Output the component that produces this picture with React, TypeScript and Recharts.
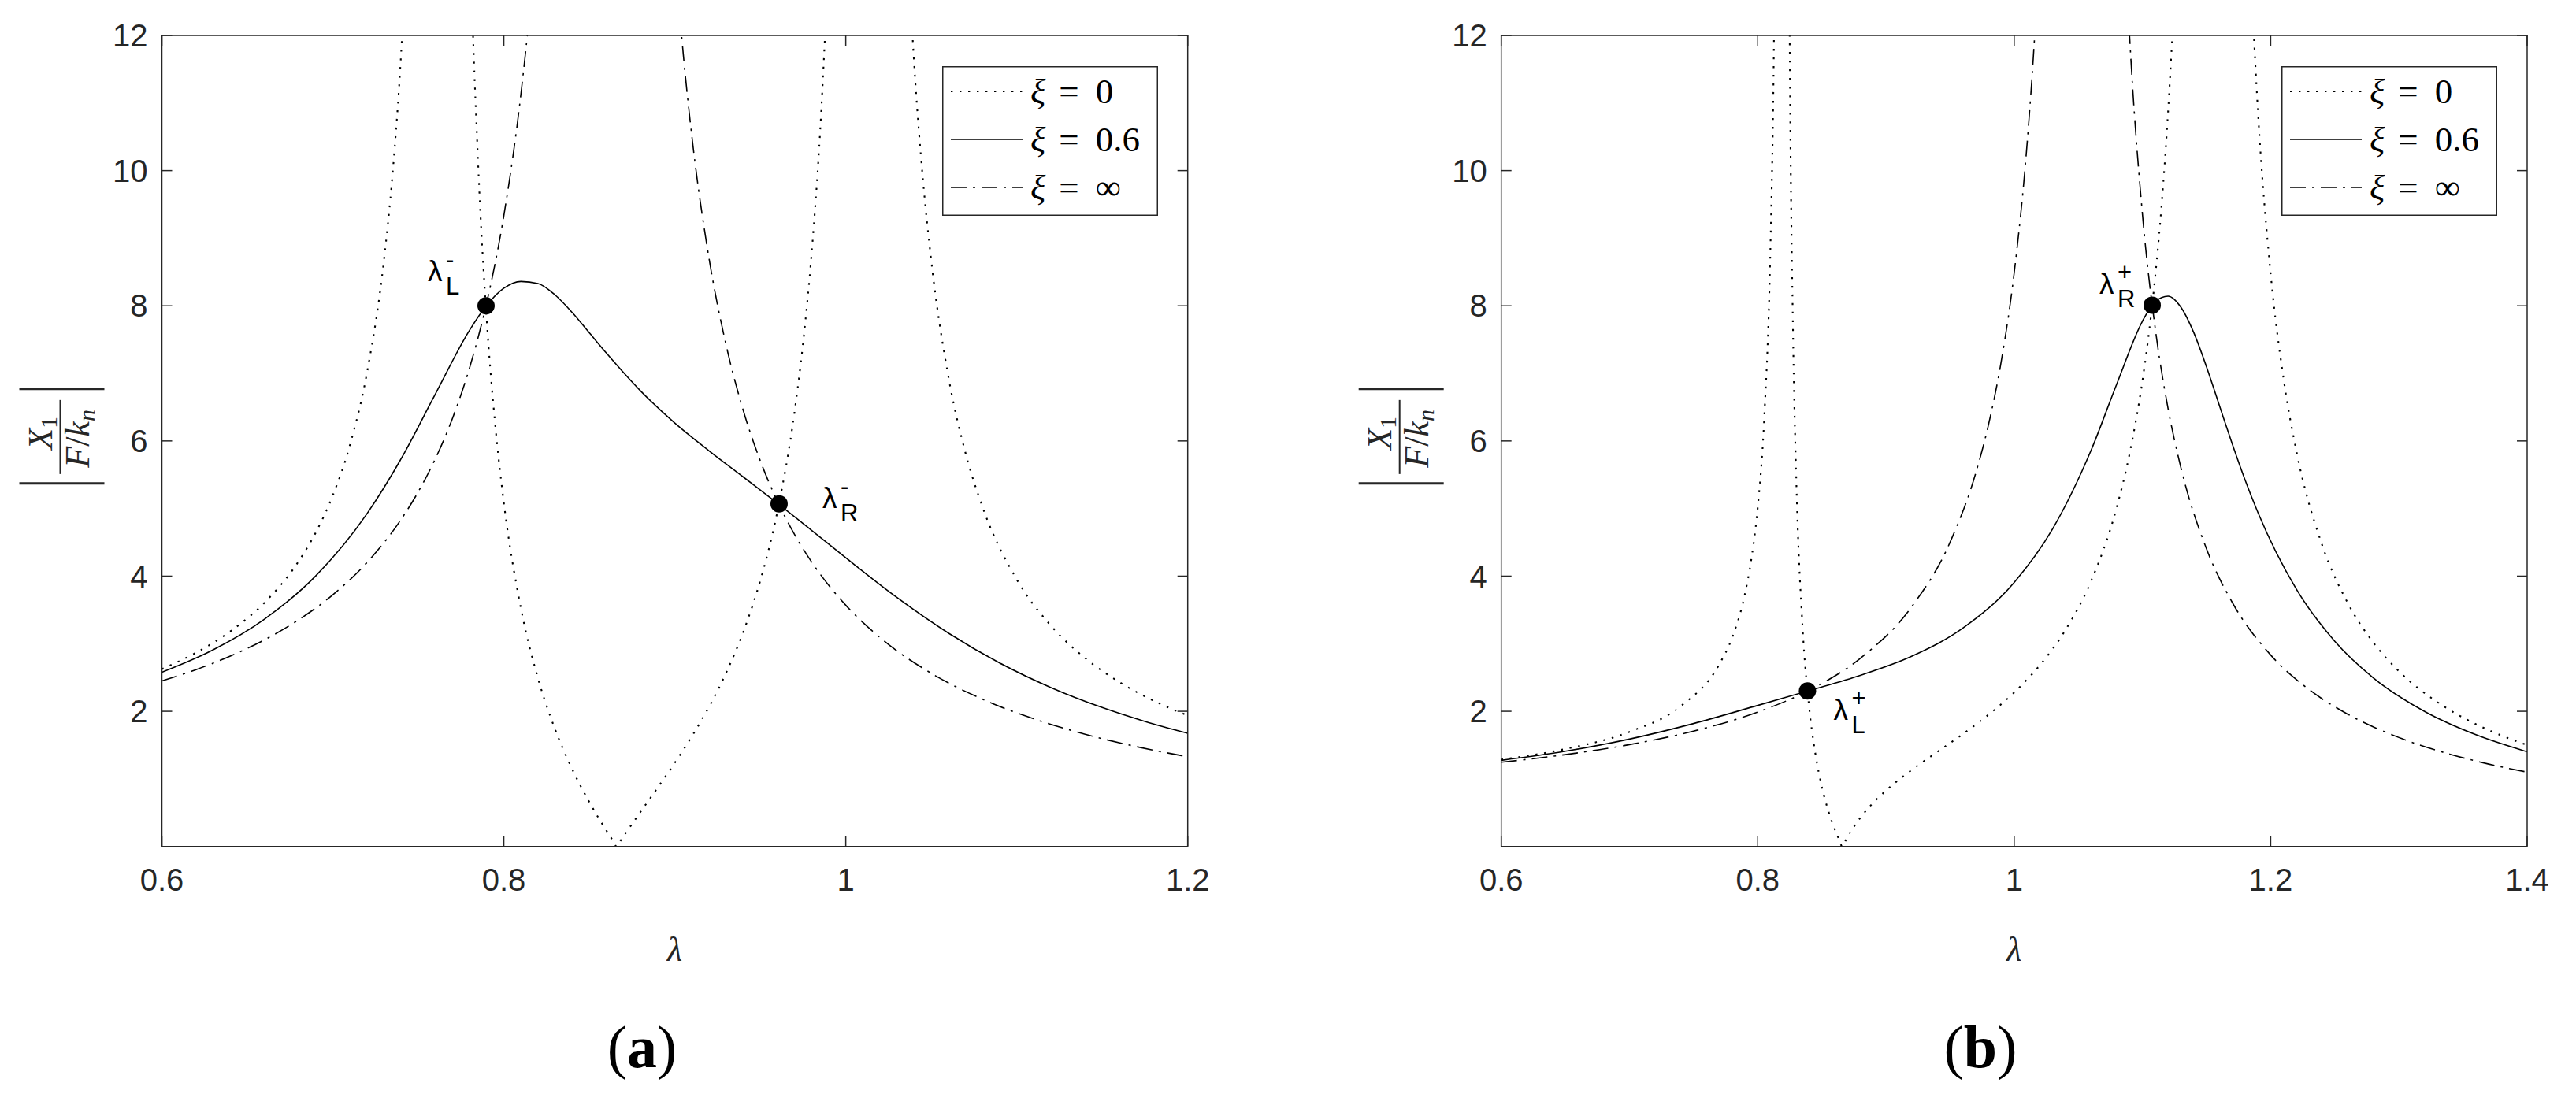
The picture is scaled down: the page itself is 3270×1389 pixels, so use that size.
import React from 'react';
import { LineChart, Line, XAxis, YAxis, ReferenceDot, Legend } from 'recharts';

// ---------------- Panel (a) ----------------
const lamA0 = [0.60, 0.62, 0.64, 0.66, 0.68, 0.69, 0.70, 0.71, 0.72, 0.73, 0.735, 0.74, 0.745, 0.764,
  0.775, 0.78, 0.785, 0.79, 0.795, 0.80, 0.81, 0.82, 0.83, 0.84, 0.85, 0.86, 0.864, 0.866, 0.868, 0.87, 0.88, 0.89, 0.90,
  0.91, 0.92, 0.93, 0.94, 0.95, 0.96, 0.97, 0.975, 0.98, 0.985, 0.99, 1.012,
  1.035, 1.04, 1.045, 1.05, 1.06, 1.07, 1.08, 1.10, 1.12, 1.14, 1.16, 1.18, 1.20];
const valA0 = [2.625, 2.868, 3.182, 3.607, 4.221, 4.645, 5.195, 5.941, 7.014, 8.701, 9.972, 11.767, 14.495, null,
  20.84, 13.79, 10.084, 7.79, 6.227, 5.087, 3.524, 2.487, 1.733, 1.144, 0.657, 0.235, 0.078, 0, 0.075, 0.149, 0.512, 0.871, 1.238,
  1.630, 2.065, 2.567, 3.171, 3.934, 4.955, 6.424, 7.442, 8.768, 10.576, 13.19, null,
  13.98, 11.582, 9.906, 8.667, 6.955, 5.825, 5.022, 3.951, 3.266, 2.787, 2.432, 2.157, 1.938];

const lamA06 = [0.60, 0.63, 0.66, 0.69, 0.72, 0.74, 0.76, 0.78, 0.79, 0.80, 0.81, 0.82, 0.83, 0.84, 0.85, 0.86, 0.88,
  0.90, 0.92, 0.94, 0.96, 0.98, 1.00, 1.03, 1.06, 1.09, 1.12, 1.15, 1.175, 1.20];
const valA06 = [2.578, 2.910, 3.364, 4.004, 4.925, 5.740, 6.697, 7.640, 8.008, 8.26, 8.36, 8.33, 8.16, 7.90, 7.60,
  7.30, 6.74, 6.265, 5.855, 5.468, 5.079, 4.678, 4.272, 3.683, 3.158, 2.715, 2.351, 2.055, 1.850, 1.675];

const lamAinf = [0.60, 0.62, 0.64, 0.66, 0.68, 0.70, 0.72, 0.74, 0.75, 0.76, 0.77, 0.78, 0.79, 0.80, 0.81, 0.815, 0.82, 0.86,
  0.90, 0.905, 0.91, 0.92, 0.93, 0.94, 0.95, 0.96, 0.97, 0.98, 1.00, 1.02, 1.05, 1.08, 1.11, 1.14, 1.17, 1.20];
const valAinf = [2.449, 2.617, 2.817, 3.058, 3.354, 3.725, 4.203, 4.842, 5.250, 5.739, 6.337, 7.086, 8.049, 9.334, 11.134, 12.33, 13.83, null,
  13.21, 11.71, 10.505, 8.705, 7.42, 6.456, 5.707, 5.108, 4.618, 4.211, 3.570, 3.091, 2.562, 2.178, 1.888, 1.660, 1.477, 1.327];

// ---------------- Panel (b) ----------------
const lamB0 = [0.60, 0.65, 0.70, 0.74, 0.77, 0.78, 0.79, 0.795, 0.80, 0.805, 0.81, 0.8125, 0.815, 0.8195,
  0.823, 0.825, 0.8275, 0.83, 0.835, 0.84, 0.845, 0.85, 0.855, 0.86, 0.863, 0.866, 0.869, 0.875, 0.88, 0.89, 0.90, 0.92,
  0.94, 0.96, 0.98, 1.00, 1.02, 1.04, 1.06, 1.08, 1.09, 1.10, 1.105, 1.11, 1.115, 1.12, 1.125, 1.13, 1.155,
  1.185, 1.19, 1.20, 1.21, 1.22, 1.24, 1.26, 1.28, 1.30, 1.33, 1.36, 1.40];
const valB0 = [1.285, 1.442, 1.696, 2.076, 2.694, 3.088, 3.734, 4.247, 5.016, 6.306, 8.937, 11.654, 17.365, null,
  19.32, 11.765, 7.638, 5.475, 3.234, 2.078, 1.368, 0.884, 0.530, 0.257, 0.121, 0, 0.107, 0.292, 0.424, 0.645, 0.827, 1.131,
  1.399, 1.664, 1.950, 2.279, 2.682, 3.204, 3.929, 5.021, 5.814, 6.890, 7.589, 8.441, 9.505, 10.873, 12.695, 15.245, null,
  12.716, 10.898, 8.471, 6.926, 5.855, 4.467, 3.606, 3.019, 2.593, 2.135, 1.810, 1.500];

const lamB06 = [0.60, 0.65, 0.70, 0.75, 0.80, 0.84, 0.88, 0.92, 0.96, 1.00, 1.03, 1.06, 1.08, 1.10, 1.11, 1.12, 1.13, 1.14,
  1.15, 1.16, 1.17, 1.18, 1.19, 1.22, 1.25, 1.28, 1.32, 1.36, 1.40];
const valB06 = [1.274, 1.409, 1.589, 1.819, 2.087, 2.306, 2.532, 2.813, 3.231, 3.907, 4.700, 5.864, 6.844, 7.772, 8.063,
  8.142, 7.979, 7.605, 7.094, 6.525, 5.958, 5.425, 4.944, 3.808, 3.036, 2.496, 1.998, 1.653, 1.401];

const lamBinf = [0.60, 0.65, 0.70, 0.75, 0.80, 0.84, 0.88, 0.92, 0.95, 0.97, 0.98, 0.99, 1.00, 1.01, 1.015, 1.02, 1.0536,
  1.085, 1.09, 1.10, 1.11, 1.12, 1.13, 1.15, 1.17, 1.20, 1.23, 1.26, 1.30, 1.34, 1.37, 1.40];
const valBinf = [1.246, 1.359, 1.507, 1.707, 1.988, 2.311, 2.784, 3.545, 4.502, 5.524, 6.244, 7.190, 8.490, 10.386, 11.702, 13.41, null,
  13.925, 11.983, 9.356, 7.661, 6.477, 5.604, 4.401, 3.612, 2.833, 2.321, 1.958, 1.612, 1.364, 1.219, 1.100];

// ---------------- ticks, legend, markers ----------------
const ticksXA = [0.6, 0.8, 1, 1.2];
const ticksXB = [0.6, 0.8, 1, 1.2, 1.4];
const ticksY = [2, 4, 6, 8, 10, 12];
const legendLabels = ['0', '0.6', '\u221E'];
const panelLabels = ['a', 'b'];

type Marker = { x: number; y: number; sub: string; sup: string; dx: number; dy: number };
const markersA: Marker[] = [
  { x: 0.7896, y: 8.0, sub: 'L', sup: '-', dx: -74, dy: -31 },
  { x: 0.961, y: 5.07, sub: 'R', sup: '-', dx: 55, dy: 5 },
];
const markersB: Marker[] = [
  { x: 0.8388, y: 2.3, sub: 'L', sup: '+', dx: 33, dy: 37 },
  { x: 1.1076, y: 8.01, sub: 'R', sup: '+', dx: -67, dy: -14 },
];

const zip = (xs: number[], ys: (number | null)[]) => xs.map((x, i) => ({ x, y: ys[i] }));

const DOTTED = '2.4 8.6';
const DASHDOT = '20 8 3 8';
const lineDashes = [DOTTED, undefined, DASHDOT];
const lineWidths = [2.1, 1.6, 1.6];

const AXIS = '#262626';
const SANS = "'Liberation Sans', Arial, Helvetica, sans-serif";
const SERIF = "'Liberation Serif', 'Times New Roman', serif";

function YLabel(props: any) {
  const vb = props.viewBox || {};
  const axisX = (vb.x ?? 0) + (vb.width ?? 0);
  const cx = axisX - 127;
  const cy = (vb.y ?? 45) + (vb.height ?? 1030) / 2 - 6;
  return (
    <g transform={`translate(${cx},${cy}) rotate(-90)`} fill={AXIS} fontFamily={SERIF}>
      <line x1={-60} x2={-60} y1={-54} y2={54} stroke={AXIS} strokeWidth={3} />
      <line x1={60} x2={60} y1={-54} y2={54} stroke={AXIS} strokeWidth={3} />
      <line x1={-48} x2={46} y1={-2} y2={-2} stroke={AXIS} strokeWidth={2} />
      <text x={4} y={-13} textAnchor="middle" fontSize={44}>
        <tspan fontStyle="italic">X</tspan>
        <tspan fontSize={30} dy={6}>1</tspan>
      </text>
      <text x={-3} y={34} textAnchor="middle" fontSize={44}>
        <tspan fontStyle="italic">F</tspan>
        <tspan>/</tspan>
        <tspan fontStyle="italic">k</tspan>
        <tspan fontStyle="italic" fontSize={30} dy={7}>n</tspan>
      </text>
    </g>
  );
}

function XLabel(props: any) {
  const vb = props.viewBox || {};
  const x = (vb.x ?? 0) + (vb.width ?? 0) / 2;
  const y = (vb.y ?? 1075) + 145;
  return (
    <text x={x} y={y} textAnchor="middle" fontFamily={SERIF} fontStyle="italic" fontSize={44} fill={AXIS}>
      {'\u03BB'}
    </text>
  );
}

function PointLabel(props: any) {
  const vb = props.viewBox || {};
  const cx = (vb.x ?? 0) + (vb.width ?? 0) / 2;
  const cy = (vb.y ?? 0) + (vb.height ?? 0) / 2;
  const x0 = cx + props.dx;
  const base = cy + props.dy;
  return (
    <g fill="#000" fontFamily={SANS}>
      <text x={x0} y={base} fontSize={37}>{'\u03BB'}</text>
      <text x={x0 + 23} y={base + 17} fontSize={31}>{props.sub}</text>
      <text x={x0 + 23} y={base - 17} fontSize={31}>{props.sup}</text>
    </g>
  );
}

function LegendBox() {
  return (
    <svg width={274} height={190} style={{ display: 'block' }}>
      <rect x={0.75} y={0.75} width={272.5} height={188.5} fill="#fff" stroke={AXIS} strokeWidth={1.5} />
      {legendLabels.map((lab, i) => {
        const cy = 32 + i * 61;
        return (
          <g key={i}>
            <line x1={11} x2={102} y1={cy} y2={cy} stroke="#000" strokeWidth={lineWidths[i]} strokeDasharray={lineDashes[i]} />
            <text x={112} y={cy + 15} fontFamily={SERIF} fontSize={45} fill="#000">
              <tspan fontStyle="italic">{'\u03BE'}</tspan>
              <tspan dx={17}>=</tspan>
              <tspan dx={21}>{lab}</tspan>
            </text>
          </g>
        );
      })}
    </svg>
  );
}

type PanelProps = {
  width: number;
  margin: { top: number; right: number; bottom: number; left: number };
  domain: [number, number];
  xticks: number[];
  series: { x: number; y: number | null }[][];
  markers: Marker[];
  legendLeft: number;
};

function Panel({ width, margin, domain, xticks, series, markers, legendLeft }: PanelProps) {
  const tickStyle = { fill: AXIS, fontSize: 40, fontFamily: SANS };
  return (
    <LineChart width={width} height={1389} margin={margin}>
      <XAxis xAxisId="b" type="number" dataKey="x" domain={domain} ticks={xticks} interval={0}
        allowDataOverflow height={1} tickSize={-13} tickMargin={41} stroke={AXIS} strokeWidth={1.5}
        tick={tickStyle} label={<XLabel />} />
      <XAxis xAxisId="t" orientation="top" type="number" dataKey="x" domain={domain} ticks={xticks} interval={0}
        allowDataOverflow height={1} tickSize={-13} stroke={AXIS} strokeWidth={1.5} tickFormatter={() => ''} />
      <YAxis yAxisId="l" type="number" domain={[0, 12]} ticks={ticksY} interval={0} allowDataOverflow width={1}
        tickSize={-13} tickMargin={31} stroke={AXIS} strokeWidth={1.5} tick={tickStyle} label={<YLabel />} />
      <YAxis yAxisId="r" orientation="right" type="number" domain={[0, 12]} ticks={ticksY} interval={0}
        allowDataOverflow width={1} tickSize={-13} stroke={AXIS} strokeWidth={1.5} tickFormatter={() => ''} />
      {series.map((d, i) => (
        <Line key={i} data={d} dataKey="y" xAxisId="b" yAxisId="l" type="monotone" stroke="#000"
          strokeWidth={lineWidths[i]} strokeDasharray={lineDashes[i]} dot={false} activeDot={false}
          isAnimationActive={false} connectNulls={false} />
      ))}
      {markers.map((m, i) => (
        <ReferenceDot key={i} xAxisId="b" yAxisId="l" x={m.x} y={m.y} r={11} fill="#000" stroke="none"
          label={<PointLabel sub={m.sub} sup={m.sup} dx={m.dx} dy={m.dy} />} />
      ))}
      <Legend layout="vertical" align="center" verticalAlign="middle" content={() => <LegendBox />}
        wrapperStyle={{ left: legendLeft, top: 84, width: 274, height: 190 }} />
    </LineChart>
  );
}

export default function App() {
  return (
    <div style={{ position: 'absolute', left: 0, top: 0, width: 3270, height: 1389, background: '#fff', overflow: 'hidden' }}>
      <div style={{ position: 'absolute', left: 0, top: 0 }}>
        <Panel width={1650} margin={{ top: 44, right: 141.3, bottom: 313.3, left: 204.5 }} domain={[0.6, 1.2]}
          xticks={ticksXA} series={[zip(lamA0, valA0), zip(lamA06, valA06), zip(lamAinf, valAinf)]}
          markers={markersA} legendLeft={1195.7} />
      </div>
      <div style={{ position: 'absolute', left: 1650, top: 0 }}>
        <Panel width={1620} margin={{ top: 44, right: 61, bottom: 313.3, left: 254.7 }} domain={[0.6, 1.4]}
          xticks={ticksXB} series={[zip(lamB0, valB0), zip(lamB06, valB06), zip(lamBinf, valBinf)]}
          markers={markersB} legendLeft={1245.8} />
      </div>
      <svg width={3270} height={1389} style={{ position: 'absolute', left: 0, top: 0, pointerEvents: 'none' }}>
        {panelLabels.map((p, i) => (
          <text key={p} x={i === 0 ? 815 : 2514} y={1355} textAnchor="middle" fontFamily={SERIF} fontSize={76} fill="#000">
            (<tspan fontWeight="bold">{p}</tspan>)
          </text>
        ))}
      </svg>
    </div>
  );
}
